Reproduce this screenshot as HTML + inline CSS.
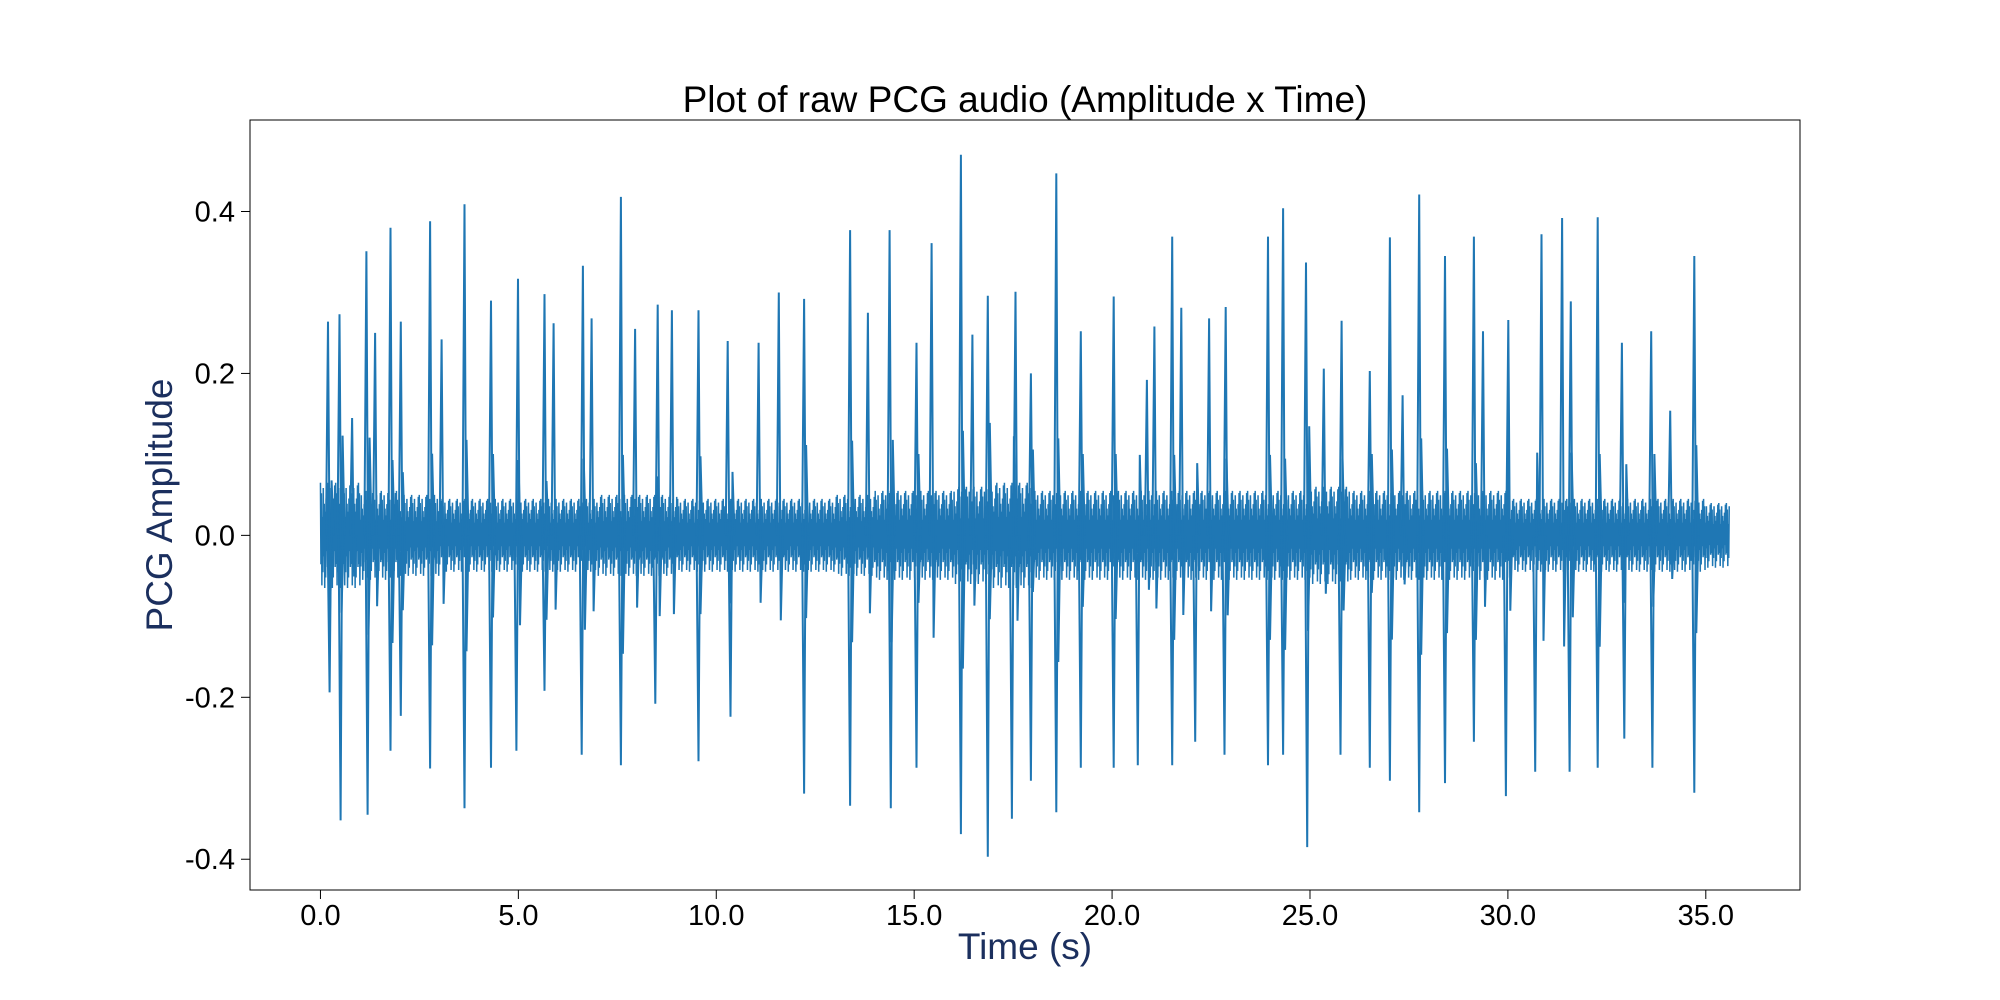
<!DOCTYPE html>
<html><head><meta charset="utf-8">
<style>
html,body{margin:0;padding:0;background:#fff;}
svg{display:block;font-family:"Liberation Sans","DejaVu Sans",sans-serif;}
</style></head>
<body>
<svg id="chart" width="2000" height="1000" viewBox="0 0 2000 1000" xmlns="http://www.w3.org/2000/svg">
<rect width="2000" height="1000" fill="#fff"/>
<text x="1025" y="112" text-anchor="middle" font-size="37" fill="#000">Plot of raw PCG audio (Amplitude x Time)</text>
<g id="plot"></g>
<g id="axes"></g>
<text x="1025" y="959" text-anchor="middle" font-size="37" fill="#1b2f5e">Time (s)</text>
<text transform="translate(172,505) rotate(-90)" text-anchor="middle" font-size="37" fill="#1b2f5e">PCG Amplitude</text>
</svg>
<script>
const xTicks = [0,5,10,15,20,25,30,35];
const xTickLabels = ["0.0","5.0","10.0","15.0","20.0","25.0","30.0","35.0"];
const yTicks = [-0.4,-0.2,0,0.2,0.4];
const yTickLabels = ["-0.4","-0.2","0.0","0.2","0.4"];
const posTimes = [0.19,0.48,0.80,1.16,1.38,1.77,2.03,2.77,3.06,3.64,4.31,4.99,5.66,5.89,6.63,6.85,7.59,7.95,8.52,8.88,9.55,10.29,11.07,11.58,12.22,13.38,13.83,14.38,15.06,15.44,16.18,16.47,16.86,17.56,17.95,18.59,19.21,20.04,20.88,21.07,21.52,21.75,22.45,22.87,23.94,24.32,24.90,25.35,25.80,26.51,27.02,27.34,27.76,28.41,29.14,29.37,30.01,30.85,31.37,31.59,32.27,32.88,33.62,34.10,34.71];
const posAmps = [0.264,0.273,0.145,0.351,0.250,0.38,0.264,0.388,0.242,0.409,0.29,0.317,0.298,0.262,0.333,0.268,0.418,0.255,0.285,0.278,0.278,0.24,0.238,0.30,0.292,0.377,0.275,0.377,0.238,0.361,0.47,0.248,0.296,0.301,0.2,0.447,0.252,0.295,0.192,0.258,0.369,0.281,0.268,0.282,0.369,0.404,0.337,0.206,0.265,0.203,0.368,0.173,0.421,0.345,0.369,0.252,0.266,0.372,0.392,0.289,0.393,0.238,0.252,0.154,0.345];
const negTimes = [0.23,0.51,1.19,1.77,2.03,2.77,3.64,4.31,4.95,5.66,6.60,7.59,8.46,9.55,10.36,12.22,13.38,14.41,15.06,16.18,16.86,17.47,17.95,18.59,19.21,20.04,20.65,21.52,22.10,22.84,23.94,24.32,24.93,25.77,26.51,27.02,27.76,28.41,29.14,29.95,30.69,31.56,32.27,32.94,33.65,34.71];
const negAmps = [-0.194,-0.352,-0.345,-0.266,-0.223,-0.288,-0.337,-0.287,-0.266,-0.192,-0.271,-0.284,-0.208,-0.279,-0.224,-0.319,-0.334,-0.337,-0.287,-0.369,-0.397,-0.35,-0.303,-0.342,-0.287,-0.287,-0.284,-0.284,-0.255,-0.271,-0.284,-0.271,-0.385,-0.271,-0.287,-0.303,-0.342,-0.306,-0.255,-0.322,-0.292,-0.292,-0.287,-0.251,-0.287,-0.318];
const noiseEnvelope = [0.065,0.055,0.05,0.045,0.045,0.045,0.045,0.05,0.05,0.045,0.045,0.045,0.045,0.05,0.055,0.055,0.06,0.065,0.055,0.055,0.055,0.055,0.055,0.055,0.055,0.06,0.055,0.055,0.055,0.055,0.045,0.045,0.045,0.045,0.045,0.04];
const noisePattern = [1,-0.55,0.8,-0.95,0.35,-0.7,0.9,-0.4,0.6,-1,0.45,-0.8,0.7,-0.3,0.95,-0.6];
const tEnd = 35.6;

const L=250,R=1800,T=120,B=890,xMin=-1.78,xMax=37.38,yMin=-0.438,yMax=0.513;
const xs=t=>L+(t-xMin)/(xMax-xMin)*(R-L);
const ys=v=>B-(v-yMin)/(yMax-yMin)*(B-T);
const NS="http://www.w3.org/2000/svg";
const plot=document.getElementById('plot');
const axes=document.getElementById('axes');
const C="#1f77b4";

let pts=[];
const dt=0.012;
let i=0;
for(let t=0;t<=tEnd;t+=dt,i++){
  const e=noiseEnvelope[Math.min(noiseEnvelope.length-1,Math.floor(t))];
  pts.push(xs(t).toFixed(2)+","+ys(e*noisePattern[i%noisePattern.length]).toFixed(2));
}
const pl=document.createElementNS(NS,'polyline');
pl.setAttribute('points',pts.join(' '));
pl.setAttribute('fill','none');pl.setAttribute('stroke',C);pl.setAttribute('stroke-width','1.5');


plot.appendChild(pl);

function spike(t,a,name){
  const p=document.createElementNS(NS,'polyline');
  const x=xs(t);
  p.setAttribute('points',`${(x-2).toFixed(1)},${ys(0)} ${x.toFixed(1)},${ys(a).toFixed(1)} ${(x+2).toFixed(1)},${ys(-a*0.35).toFixed(1)} ${(x+4).toFixed(1)},${ys(0)}`);
  p.setAttribute('fill','none');p.setAttribute('stroke',C);p.setAttribute('stroke-width','2');
  
  
  plot.appendChild(p);
}
posTimes.forEach((t,k)=>spike(t,posAmps[k],'positive-spike'));
negTimes.forEach((t,k)=>spike(t,negAmps[k],'negative-spike'));

const fr=document.createElementNS(NS,'rect');
fr.setAttribute('x',L);fr.setAttribute('y',T);fr.setAttribute('width',R-L);fr.setAttribute('height',B-T);
fr.setAttribute('fill','none');fr.setAttribute('stroke','#000');fr.setAttribute('stroke-width','1');


axes.appendChild(fr);

xTicks.forEach((v,k)=>{
  const x=xs(v);
  const ln=document.createElementNS(NS,'line');
  ln.setAttribute('x1',x);ln.setAttribute('x2',x);ln.setAttribute('y1',B);ln.setAttribute('y2',B+9);
  ln.setAttribute('stroke','#000');ln.setAttribute('stroke-width','1');
  
  
  axes.appendChild(ln);
  const tx=document.createElementNS(NS,'text');
  tx.setAttribute('x',x);tx.setAttribute('y',B+35);tx.setAttribute('text-anchor','middle');tx.setAttribute('font-size','29');
  tx.textContent=xTickLabels[k];
  
  
  axes.appendChild(tx);
});
yTicks.forEach((v,k)=>{
  const y=ys(v);
  const ln=document.createElementNS(NS,'line');
  ln.setAttribute('x1',L-9);ln.setAttribute('x2',L);ln.setAttribute('y1',y);ln.setAttribute('y2',y);
  ln.setAttribute('stroke','#000');ln.setAttribute('stroke-width','1');
  
  
  axes.appendChild(ln);
  const tx=document.createElementNS(NS,'text');
  tx.setAttribute('x',L-15);tx.setAttribute('y',y+10);tx.setAttribute('text-anchor','end');tx.setAttribute('font-size','29');
  tx.textContent=yTickLabels[k];
  
  
  axes.appendChild(tx);
});
</script>
</body></html>
